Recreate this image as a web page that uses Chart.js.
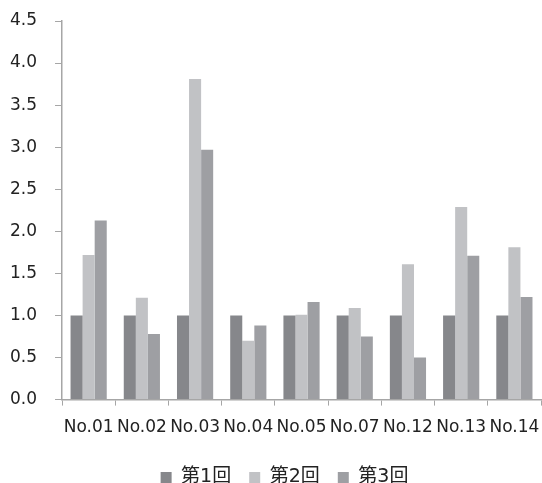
<!DOCTYPE html>
<html>
<head>
<meta charset="utf-8">
<script src="https://cdn.jsdelivr.net/npm/chart.js@4"></script>
<style>
  html, body { margin: 0; padding: 0; background: #fff; }
  #wrap { width: 542px; height: 483px; }
</style>
</head>
<body>
<div id="wrap"><canvas id="chart"></canvas></div>
<script>
const categories = ['No.01', 'No.02', 'No.03', 'No.04', 'No.05', 'No.07', 'No.12', 'No.13', 'No.14'];
const round1 = [1, 1, 1, 1, 1, 1, 1, 1, 1];
const round2 = [1.72, 1.21, 3.81, 0.70, 1.01, 1.09, 1.61, 2.29, 1.81];
const round3 = [2.13, 0.78, 2.97, 0.88, 1.16, 0.75, 0.50, 1.71, 1.22];
const seriesNames = ['第1回', '第2回', '第3回'];

const axisColor = '#a6a6a6';
const family = '"DejaVu Sans", "Noto Sans CJK JP", sans-serif';

// legend sits a bit right of the page centre in the original
const legendShift = {
    id: 'legendShift',
    afterLayout(chart) {
        chart.legend.left += 18;
        chart.legend.right += 18;
    }
};

new Chart(document.getElementById('chart'), {
    type: 'bar',
    data: {
        labels: categories,
        datasets: [
            { label: seriesNames[0], data: round1, backgroundColor: '#86878b' },
            { label: seriesNames[1], data: round2, backgroundColor: '#c1c2c5' },
            { label: seriesNames[2], data: round3, backgroundColor: '#9e9fa3' }
        ]
    },
    plugins: [legendShift],
    options: {
        responsive: true,
        maintainAspectRatio: false,
        animation: false,
        layout: { autoPadding: false, padding: { left: -8, right: 1, top: 21, bottom: -14 } },
        datasets: {
            bar: { categoryPercentage: 0.68, barPercentage: 1.0 }
        },
        plugins: {
            legend: {
                position: 'bottom',
                labels: {
                    font: { family: family, size: 19 },
                    color: '#222',
                    boxWidth: 11,
                    boxHeight: 11,
                    padding: 18
                }
            },
            tooltip: { enabled: false }
        },
        scales: {
            x: {
                afterFit: s => { s.paddingRight = 0; s.paddingLeft = 0; },
                grid: {
                    drawOnChartArea: false,
                    drawTicks: true,
                    tickLength: 6,
                    color: axisColor
                },
                border: { color: axisColor, width: 1.5 },
                ticks: { font: { family: family, size: 17 }, color: '#222', padding: 12, maxRotation: 0, autoSkip: false }
            },
            y: {
                min: 0,
                max: 4.5,
                afterFit: s => { s.paddingTop = 0; },
                grid: {
                    drawOnChartArea: false,
                    drawTicks: true,
                    tickLength: 7,
                    color: axisColor
                },
                border: { color: axisColor, width: 1.5 },
                ticks: {
                    stepSize: 0.5,
                    font: { family: family, size: 17 },
                    color: '#222',
                    padding: 18,
                    callback: v => Number(v).toFixed(1)
                }
            }
        }
    }
});
</script>
</body>
</html>
